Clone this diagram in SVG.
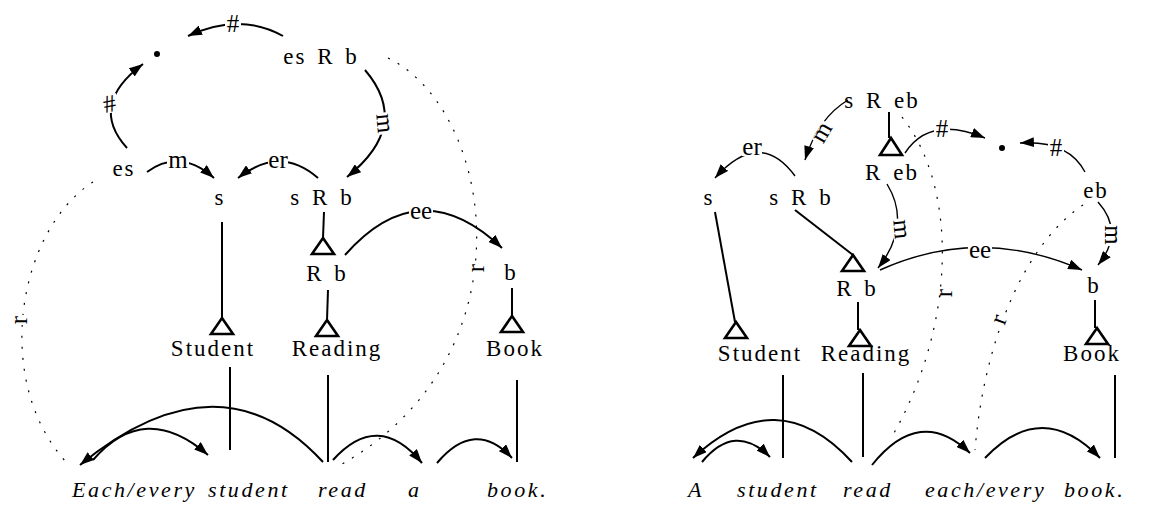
<svg xmlns="http://www.w3.org/2000/svg" width="1149" height="510" viewBox="0 0 1149 510">
  <style>
    .lbl { font-family: "Liberation Serif", "Times New Roman", serif; font-size: 23px; fill: #000; letter-spacing: 2px; word-spacing: 3px; text-anchor: middle; }
    .word { font-family: "Liberation Serif", "Times New Roman", serif; font-size: 22px; font-style: italic; fill: #000; letter-spacing: 2.6px; }
    .tag text { font-family: "Liberation Serif", "Times New Roman", serif; font-size: 25px; fill: #000; text-anchor: middle; }
    .tag rect { fill: #fff; }
    .arc { fill: none; stroke: #000; stroke-width: 2; marker-end: url(#head); }
    .arc2 { fill: none; stroke: #000; stroke-width: 1.4; marker-end: url(#head); }
    .plain { fill: none; stroke: #000; stroke-width: 2; }
    .dot { fill: none; stroke: #000; stroke-width: 1.2; stroke-dasharray: 2 9; }
    .tri { fill: #fff; stroke: #000; stroke-width: 2.6; stroke-linejoin: miter; }
  </style>
  <defs>
    <marker id="head" viewBox="0 0 14 10" refX="14" refY="5" markerWidth="14" markerHeight="10" markerUnits="userSpaceOnUse" orient="auto">
      <path d="M0,0 L14,5 L0,10 z" fill="#000"/>
    </marker>
  </defs>

  <rect width="1149" height="510" fill="#fff"/>

  <!-- connectors -->
  <g id="connectors">
    <!-- left structure -->
    <path class="arc" d="M283 36 Q240 12 188 36"/>
    <path class="arc" d="M127 148 Q88 105 143 64"/>
    <path class="arc" d="M365 70 Q412 125 347 177"/>
    <path class="arc" d="M147 172 Q180 148 214 178"/>
    <path class="arc" d="M318 178 Q280 145 238 178"/>
    <path class="arc" d="M345 255 Q420 170 502 248"/>
    <path class="plain" d="M222 222 L222 318"/>
    <path class="plain" d="M324 212 L323 238"/>
    <path class="plain" d="M328 290 L327 320"/>
    <path class="plain" d="M512 288 L512 316"/>
    <path class="dot" d="M93 182 C18 230 -8 380 66 462"/>
    <path class="dot" d="M388 58 C495 110 535 360 335 468"/>
    <!-- left sentence -->
    <path class="plain" d="M230 367 L230 450"/>
    <path class="plain" d="M328 375 L328 462"/>
    <path class="plain" d="M517 380 L517 462"/>
    <path class="arc" d="M323 462 Q220 350 80 465"/>
    <path class="arc" d="M93 460 Q145 400 208 455"/>
    <path class="arc" d="M333 460 Q378 410 422 463"/>
    <path class="arc" d="M437 463 Q475 418 512 458"/>

    <!-- right structure -->
    <path class="arc2" d="M848 100 Q818 118 805 160"/>
    <path class="arc2" d="M795 176 Q760 128 715 178"/>
    <path class="arc2" d="M905 153 Q930 115 985 138"/>
    <path class="arc2" d="M1085 172 Q1068 140 1020 143"/>
    <path class="arc2" d="M1098 202 Q1125 232 1098 265"/>
    <path class="arc2" d="M887 184 Q912 225 878 268"/>
    <path class="arc2" d="M880 270 Q980 225 1082 270"/>
    <path class="plain" d="M889 112 L889 138"/>
    <path class="plain" d="M715 212 L735 322"/>
    <path class="plain" d="M795 210 L853 255"/>
    <path class="plain" d="M858 302 L858 330"/>
    <path class="plain" d="M1095 300 L1095 328"/>
    <path class="dot" d="M902 117 C960 190 955 330 890 440"/>
    <path class="dot" d="M1083 205 C1030 240 985 330 975 450"/>
    <!-- right sentence -->
    <path class="plain" d="M783 375 L783 458"/>
    <path class="plain" d="M863 373 L863 457"/>
    <path class="plain" d="M1115 375 L1115 458"/>
    <path class="arc" d="M852 462 Q777 380 693 458"/>
    <path class="arc" d="M702 462 Q735 422 770 457"/>
    <path class="arc" d="M872 465 Q920 405 970 453"/>
    <path class="arc" d="M985 458 Q1042 398 1100 458"/>

    <!-- edge labels: white backing breaks the line under each label -->
    <g class="tag" transform="translate(233 32)"><rect x="-8" y="-18" width="16" height="19"/><text>#</text></g>
    <g class="tag" transform="translate(111 112) rotate(-10)"><rect x="-8" y="-18" width="16" height="19"/><text>#</text></g>
    <g class="tag" transform="translate(377 124) rotate(85)"><rect x="-11" y="-12" width="22" height="13"/><text>m</text></g>
    <g class="tag" transform="translate(178 168)"><rect x="-11" y="-12" width="22" height="13"/><text>m</text></g>
    <g class="tag" transform="translate(278 168)"><rect x="-10" y="-12" width="20" height="13"/><text>er</text></g>
    <g class="tag" transform="translate(421 219)"><rect x="-12" y="-12" width="24" height="13"/><text>ee</text></g>
    <g class="tag" transform="translate(27 320) rotate(-90)"><rect x="-5" y="-12" width="10" height="13"/><text>r</text></g>
    <g class="tag" transform="translate(484 268) rotate(-90)"><rect x="-5" y="-12" width="10" height="13"/><text>r</text></g>

    <g class="tag" transform="translate(828 136) rotate(-60)"><rect x="-11" y="-12" width="22" height="13"/><text>m</text></g>
    <g class="tag" transform="translate(752 155)"><rect x="-10" y="-12" width="20" height="13"/><text>er</text></g>
    <g class="tag" transform="translate(942 137)"><rect x="-8" y="-18" width="16" height="19"/><text>#</text></g>
    <g class="tag" transform="translate(1056 156)"><rect x="-8" y="-18" width="16" height="19"/><text>#</text></g>
    <g class="tag" transform="translate(1105 235) rotate(90)"><rect x="-11" y="-12" width="22" height="13"/><text>m</text></g>
    <g class="tag" transform="translate(894 230) rotate(85)"><rect x="-11" y="-12" width="22" height="13"/><text>m</text></g>
    <g class="tag" transform="translate(980 258)"><rect x="-12" y="-12" width="24" height="13"/><text>ee</text></g>
    <g class="tag" transform="translate(952 293) rotate(-90)"><rect x="-5" y="-12" width="10" height="13"/><text>r</text></g>
    <g class="tag" transform="translate(1006 322) rotate(-70)"><rect x="-5" y="-12" width="10" height="13"/><text>r</text></g>
  </g>

  <!-- left: Each/every student read a book. -->
  <g id="L-top"><circle cx="157" cy="54" r="3" fill="#000"/></g>
  <g id="L-esRb"><text class="lbl" x="321" y="64">es R b</text></g>
  <g id="L-es"><text class="lbl" x="124" y="176">es</text></g>
  <g id="L-s"><text class="lbl" x="220" y="205">s</text></g>
  <g id="L-sRb"><text class="lbl" x="322" y="205">s R b</text></g>
  <g id="L-Rb"><polygon class="tri" points="323,238 334,254 312,254"/><text class="lbl" x="327" y="281">R b</text></g>
  <g id="L-b"><text class="lbl" x="511" y="280">b</text></g>
  <g id="L-Student"><polygon class="tri" points="222,318 233,334 211,334"/><text class="lbl" x="213" y="356">Student</text></g>
  <g id="L-Reading"><polygon class="tri" points="327,320 338,336 316,336"/><text class="lbl" x="337" y="356">Reading</text></g>
  <g id="L-Book"><polygon class="tri" points="512,316 523,332 501,332"/><text class="lbl" x="515" y="356">Book</text></g>
  <g id="L-sentence">
    <text class="word" x="72" y="497">Each/every</text>
    <text class="word" x="208" y="497">student</text>
    <text class="word" x="318" y="497">read</text>
    <text class="word" x="408" y="497">a</text>
    <text class="word" x="487" y="497">book.</text>
  </g>

  <!-- right: A student read each/every book. -->
  <g id="R-sReb"><text class="lbl" x="882" y="108">s R eb</text></g>
  <g id="R-Reb"><polygon class="tri" points="891,138 902,155 880,155"/><text class="lbl" x="892" y="180">R eb</text></g>
  <g id="R-top"><circle cx="1002" cy="148" r="3" fill="#000"/></g>
  <g id="R-eb"><text class="lbl" x="1096" y="198">eb</text></g>
  <g id="R-s"><text class="lbl" x="709" y="205">s</text></g>
  <g id="R-sRb"><text class="lbl" x="801" y="205">s R b</text></g>
  <g id="R-Rb"><polygon class="tri" points="853,255 864,271 842,271"/><text class="lbl" x="857" y="296">R b</text></g>
  <g id="R-b"><text class="lbl" x="1094" y="293">b</text></g>
  <g id="R-Student"><polygon class="tri" points="736,322 747,338 725,338"/><text class="lbl" x="760" y="361">Student</text></g>
  <g id="R-Reading"><polygon class="tri" points="860,330 871,346 849,346"/><text class="lbl" x="866" y="361">Reading</text></g>
  <g id="R-Book"><polygon class="tri" points="1097,328 1108,344 1086,344"/><text class="lbl" x="1092" y="361">Book</text></g>
  <g id="R-sentence">
    <text class="word" x="688" y="497">A</text>
    <text class="word" x="737" y="497">student</text>
    <text class="word" x="843" y="497">read</text>
    <text class="word" x="925" y="497">each/every</text>
    <text class="word" x="1064" y="497">book.</text>
  </g>
</svg>
